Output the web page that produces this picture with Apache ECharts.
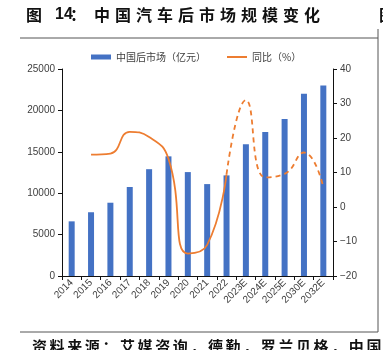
<!DOCTYPE html>
<html>
<head>
<meta charset="utf-8">
<script src="https://cdn.jsdelivr.net/npm/echarts@6/dist/echarts.min.js"></script>
<style>
  html, body { margin: 0; padding: 0; background: #fff; }
  #chart { width: 383px; height: 350px; }
</style>
</head>
<body>
<div id="chart"></div>
<script>
const years = ['2014', '2015', '2016', '2017', '2018', '2019', '2020', '2021', '2022', '2023E', '2024E', '2025E', '2030E', '2032E'];
const marketSize = [6600, 7700, 8850, 10750, 12900, 14450, 12550, 11100, 12150, 15900, 17400, 18950, 22000, 23000];
const yoyActual = [null, 15.2, 15.5, 21.8, 20.3, 14, -13.5, -11, 9.5, null, null, null, null, null];
const yoyForecast = [null, null, null, null, null, null, null, null, 9.5, 31, 8.6, 9.6, 15.8, 5.8];
const leftTicks = { min: 0, max: 25000, interval: 5000 };
const rightTicks = { min: -20, max: 40, interval: 10 };

const titleHead = [['图', 26], ['14', 55], ['：', 70]];
const titleBody = '中国汽车后市场规模变化';
const sourceText = '资料来源：艾媒咨询，德勤，罗兰贝格，中国';

const cjk = '"Noto Sans CJK SC", sans-serif';
const latin = '"Liberation Sans", Arial, sans-serif';
const blue = '#4472c4';
const orange = '#ed7d31';

const chart = echarts.init(document.getElementById('chart'));

const titleItems = titleHead.map(([t, x]) => ({
  type: 'text', x, y: 15,
  style: { text: t, font: `bold 16px ${t === '14' ? latin : cjk}`, fill: '#111', textVerticalAlign: 'middle' }
})).concat(titleBody.split('').map((c, i) => ({
  type: 'text', x: 94 + i * 21, y: 15,
  style: { text: c, font: `bold 16px ${cjk}`, fill: '#111', textVerticalAlign: 'middle' }
})));

const sourceItems = sourceText.split('').map((c, i) => ({
  type: 'text', x: 32 + i * 17.6, y: 346,
  style: { text: c, font: `bold 15px ${cjk}`, fill: '#111', textVerticalAlign: 'middle' }
}));

chart.setOption({
  animation: false,
  color: [blue, orange],
  legend: {
    left: 86, top: 47,
    itemGap: 20, itemWidth: 20, itemHeight: 5,
    textStyle: { fontFamily: cjk, fontSize: 10, color: '#404040' },
    data: [
      { name: '中国后市场（亿元）', icon: 'rect' },
      { name: '同比（%）', itemStyle: { opacity: 0 } }
    ]
  },
  grid: { left: 62, right: 50, top: 69, bottom: 74 },
  xAxis: {
    type: 'category',
    data: years,
    axisLine: { lineStyle: { color: '#111', width: 1 } },
    axisTick: { show: true, length: 4, lineStyle: { color: '#111' } },
    axisLabel: { rotate: 45, interval: 0, fontFamily: latin, fontSize: 10, color: '#404040', margin: 5 }
  },
  yAxis: [
    {
      type: 'value', ...leftTicks,
      splitLine: { show: false },
      axisLine: { show: true, lineStyle: { color: '#111' } },
      axisTick: { show: true, length: 4, lineStyle: { color: '#111' } },
      axisLabel: { fontFamily: latin, fontSize: 10, color: '#404040', margin: 7, formatter: (v) => String(v) }
    },
    {
      type: 'value', ...rightTicks,
      splitLine: { show: false },
      axisLine: { show: true, lineStyle: { color: '#111' } },
      axisTick: { show: true, length: 4, lineStyle: { color: '#111' } },
      axisLabel: {
        fontFamily: latin, fontSize: 10, color: '#404040', margin: 7,
        formatter: (v) => String(v).replace('-', '\u2212')
      }
    }
  ],
  series: [
    {
      name: '中国后市场（亿元）',
      type: 'bar',
      barWidth: 6,
      itemStyle: { color: blue },
      data: marketSize
    },
    {
      name: '同比（%）',
      type: 'line',
      yAxisIndex: 1,
      smooth: 0.5,
      showSymbol: false,
      symbol: 'none',
      lineStyle: { color: orange, width: 1.8 },
      data: yoyActual
    },
    {
      name: '同比预测',
      type: 'line',
      yAxisIndex: 1,
      smooth: 0.5,
      showSymbol: false,
      symbol: 'none',
      lineStyle: { color: orange, width: 1.8, type: [5, 4] },
      data: yoyForecast
    }
  ],
  graphic: [
    { type: 'line', shape: { x1: 20, y1: 38, x2: 378, y2: 38 }, style: { stroke: '#555', lineWidth: 1 } },
    { type: 'line', shape: { x1: 378, y1: 29, x2: 378, y2: 332 }, style: { stroke: '#555', lineWidth: 1 } },
    { type: 'line', shape: { x1: 20, y1: 332, x2: 378, y2: 332 }, style: { stroke: '#555', lineWidth: 1 } },
    { type: 'text', x: 379, y: 15, style: { text: '图', font: `bold 16px ${cjk}`, fill: '#111', textVerticalAlign: 'middle' } }
  ].concat(titleItems, sourceItems)
});
</script>
</body>
</html>
